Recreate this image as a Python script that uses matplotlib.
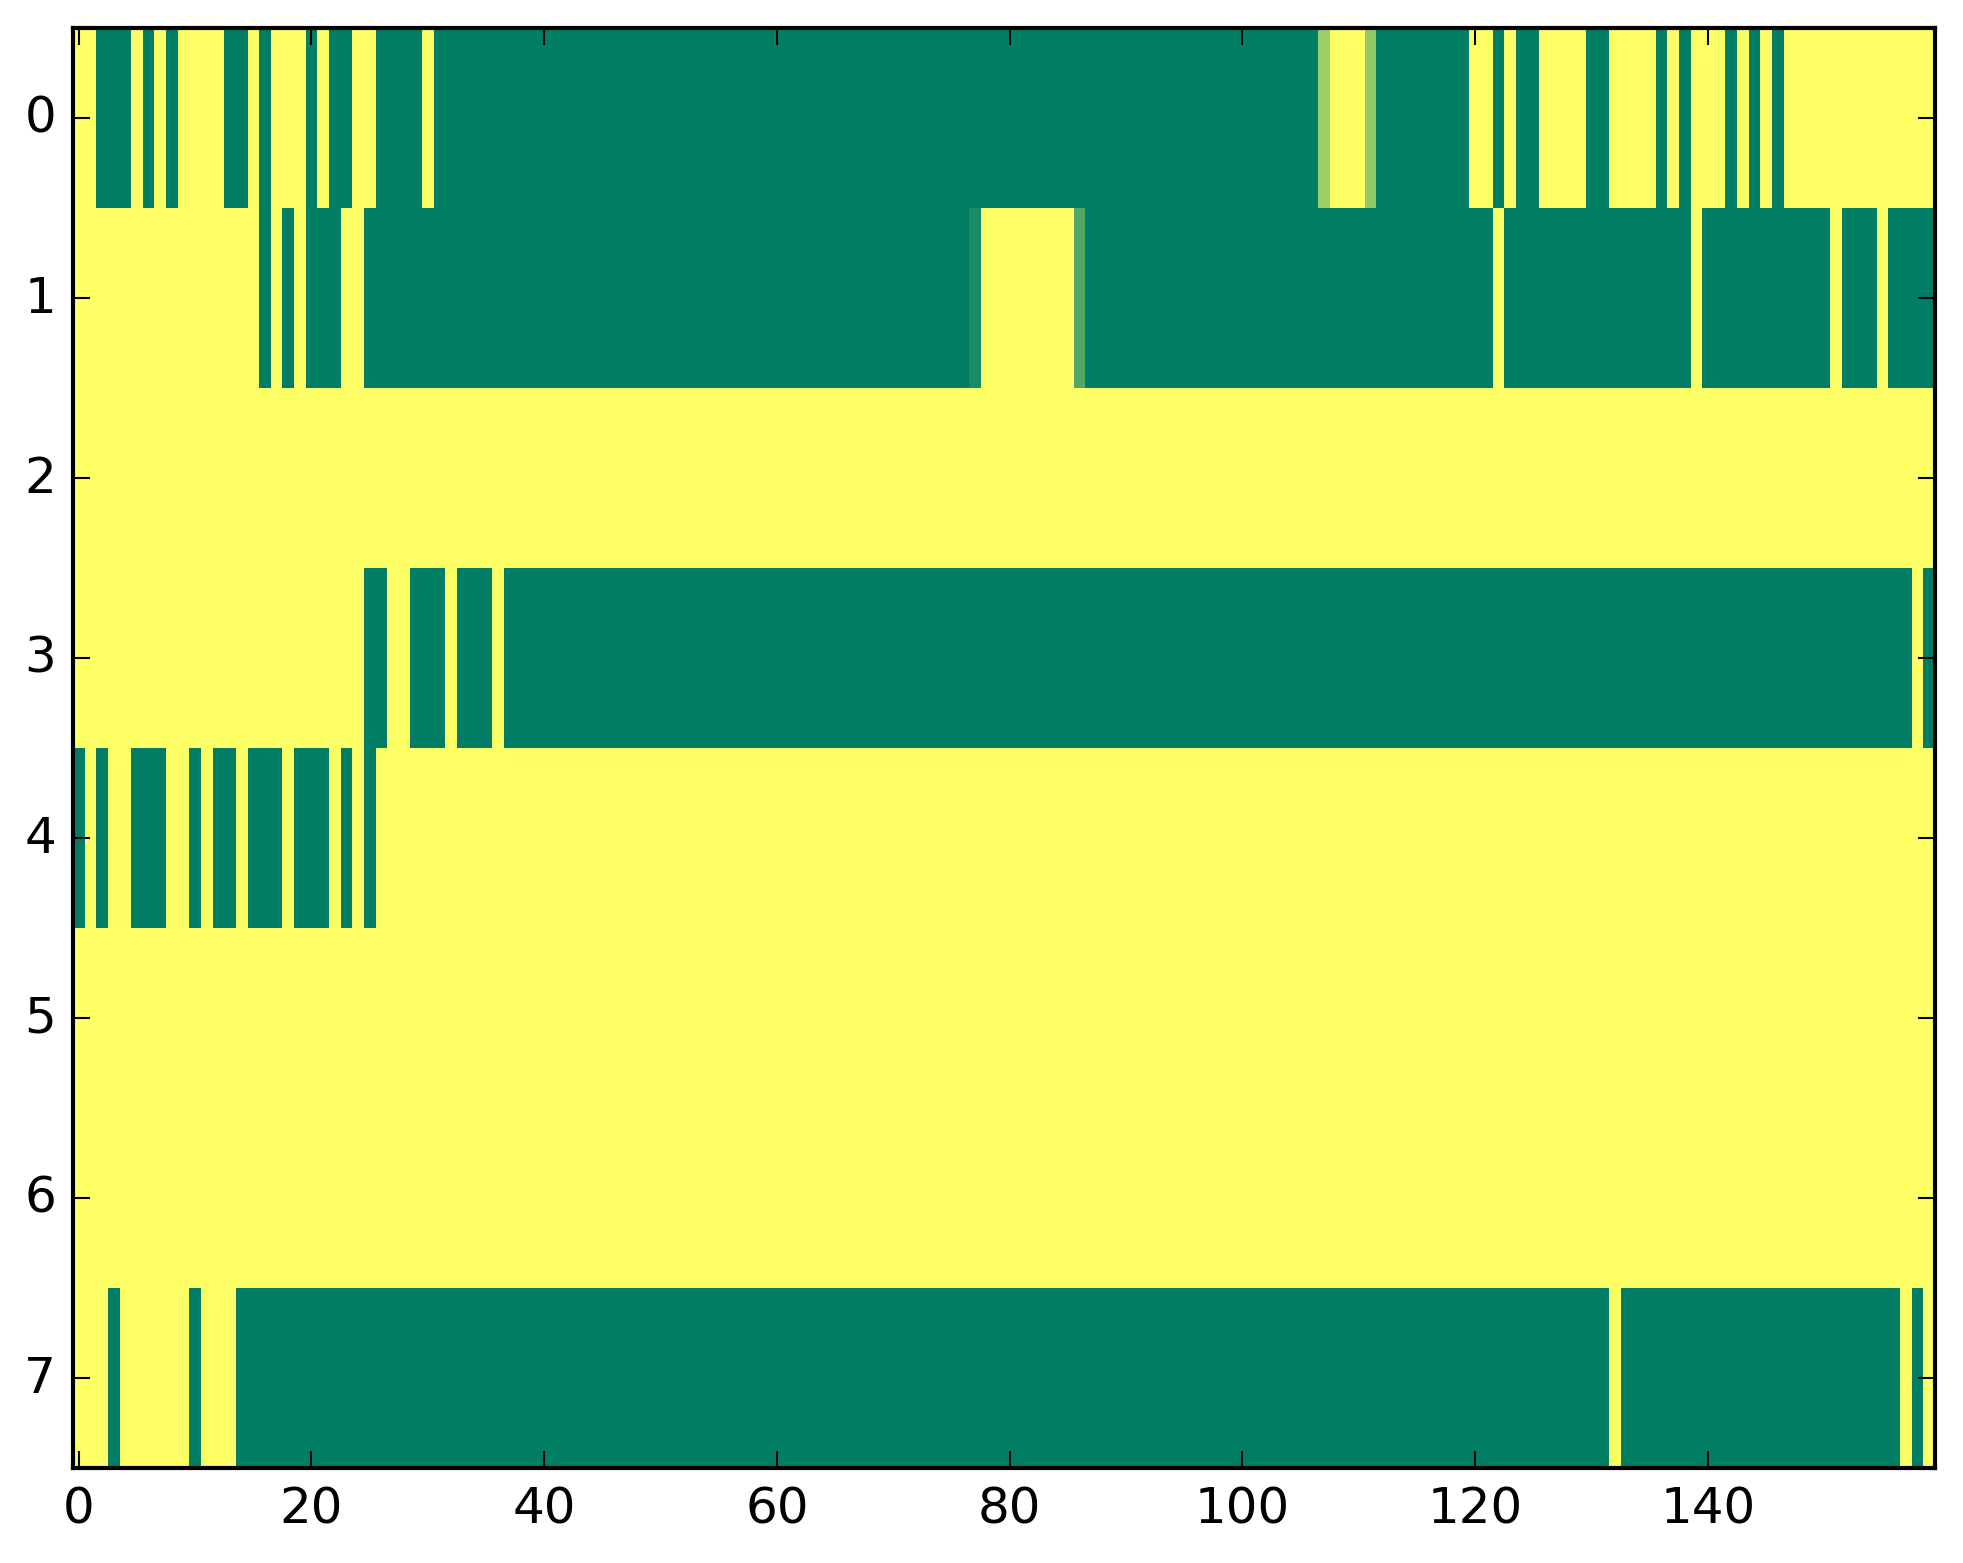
import numpy as np
import matplotlib
matplotlib.use("Agg")
import matplotlib.pyplot as plt

# each row is a list of (value, run length), 160 cells per row
# 1 = yellow, 0 = green, a few cells sit in between
row0 = [(1, 2), (0, 3), (1, 1), (0, 1), (1, 1), (0, 1), (1, 4), (0, 2), (1, 1), (0, 1),
        (1, 3), (0, 1), (1, 1), (0, 2), (1, 2), (0, 4), (1, 1), (0, 76), (0.62, 1), (1, 3),
        (0.58, 1), (0, 8), (1, 2), (0, 1), (1, 1), (0, 2), (1, 4), (0, 2), (1, 4), (0, 1),
        (1, 1), (0, 1), (1, 3), (0, 1), (1, 1), (0, 1), (1, 1), (0, 1), (1, 13)]
row1 = [(1, 16), (0, 1), (1, 1), (0, 1), (1, 1), (0, 3), (1, 2), (0, 52), (0.1, 1), (1, 8),
        (0.32, 1), (0, 35), (1, 1), (0, 16), (1, 1), (0, 11), (1, 1), (0, 3), (1, 1), (0, 4)]
row2 = [(1, 160)]
row3 = [(1, 25), (0, 2), (1, 2), (0, 3), (1, 1), (0, 3), (1, 1), (0, 121), (1, 1), (0, 1)]
row4 = [(0, 1), (1, 1), (0, 1), (1, 2), (0, 3), (1, 2), (0, 1), (1, 1), (0, 2), (1, 1),
        (0, 3), (1, 1), (0, 3), (1, 1), (0, 1), (1, 1), (0, 1), (1, 134)]
row5 = [(1, 160)]
row6 = [(1, 160)]
row7 = [(1, 3), (0, 1), (1, 6), (0, 1), (1, 3), (0, 118), (1, 1), (0, 24), (1, 1), (0, 1), (1, 1)]

rows = [row0, row1, row2, row3, row4, row5, row6, row7]


def expand(runs):
    vals = [v for v, n in runs]
    counts = [n for v, n in runs]
    return np.repeat(vals, counts)


grid = np.array([expand(r) for r in rows])

plt.style.use("classic")
plt.rcParams["font.family"] = "DejaVu Sans"

fig = plt.figure(figsize=(1963 / 300, 1564 / 300), dpi=300, facecolor="white")
ax = fig.add_axes([72.9 / 1963, 1 - 1468.7 / 1564, 1862 / 1963, 1440 / 1564])
ax.imshow(grid, cmap="summer", aspect="auto", interpolation="nearest")
ax.set_xlim(-0.5, 159.5)
ax.set_ylim(7.5, -0.5)
ax.set_yticks(range(8))

fig.savefig("out.png", dpi=300, facecolor="white")
